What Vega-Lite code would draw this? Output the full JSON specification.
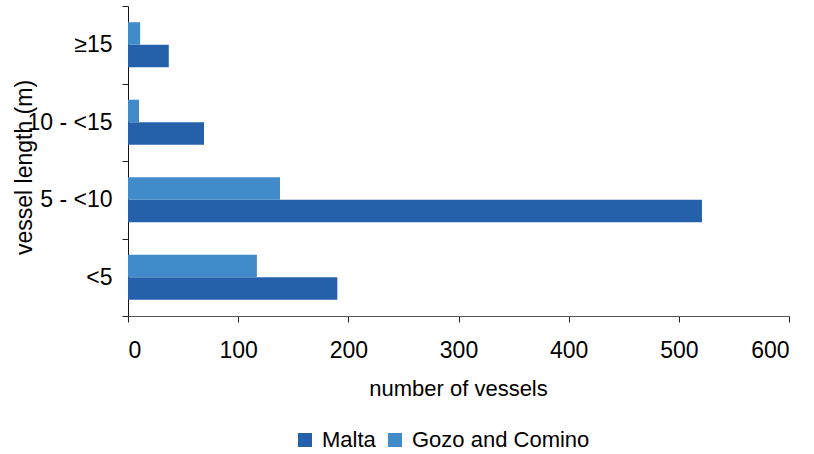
{
  "$schema": "https://vega.github.io/schema/vega-lite/v6.json",
  "autosize": "none",
  "padding": {"left": 128, "top": 6, "right": 25, "bottom": 138},
  "width": 661,
  "height": 310,
  "background": "white",
  "config": {
    "view": {"stroke": null},
    "font": "Liberation Sans",
    "axis": {"labelFont": "Liberation Sans", "titleFont": "Liberation Sans", "labelColor": "black", "titleColor": "black", "titleFontWeight": "normal", "grid": false},
    "legend": {"labelFont": "Liberation Sans"}
  },
  "data": {
    "values": [
      {"length": "≥15", "area": "Malta", "vessels": 37},
      {"length": "≥15", "area": "Gozo and Comino", "vessels": 11},
      {"length": "10 - <15", "area": "Malta", "vessels": 69},
      {"length": "10 - <15", "area": "Gozo and Comino", "vessels": 10},
      {"length": "5 - <10", "area": "Malta", "vessels": 521},
      {"length": "5 - <10", "area": "Gozo and Comino", "vessels": 138},
      {"length": "<5", "area": "Malta", "vessels": 190},
      {"length": "<5", "area": "Gozo and Comino", "vessels": 117}
    ]
  },
  "mark": {"type": "bar"},
  "encoding": {
    "y": {
      "field": "length",
      "type": "nominal",
      "sort": ["≥15", "10 - <15", "5 - <10", "<5"],
      "scale": {"paddingInner": 0, "paddingOuter": 0},
      "axis": {
        "title": "vessel length (m)",
        "titleFontSize": 23,
        "labelFontSize": 23,
        "tickBand": "extent",
        "tickSize": 6,
        "tickColor": "#222",
        "domainColor": "#111",
        "labelPadding": 10,
        "titleX": -97,
        "titleY": 161,
        "titleAngle": -90,
        "titleAlign": "center",
        "titleBaseline": "alphabetic"
      }
    },
    "yOffset": {
      "field": "area",
      "type": "nominal",
      "sort": ["Gozo and Comino", "Malta"],
      "scale": {"paddingInner": 0, "paddingOuter": 0.72}
    },
    "x": {
      "field": "vessels",
      "type": "quantitative",
      "scale": {"domain": [0, 600], "nice": false},
      "axis": {
        "title": "number of vessels",
        "values": [0, 100, 200, 300, 400, 500, 600],
        "titleFontSize": 22,
        "labelFontSize": 23,
        "tickSize": 6,
        "tickColor": "#222",
        "domainColor": "#555",
        "labelPadding": 17,
        "titleX": 330,
        "titleY": 79,
        "titleAlign": "center",
        "titleBaseline": "alphabetic"
      }
    },
    "color": {
      "field": "area",
      "type": "nominal",
      "sort": ["Malta", "Gozo and Comino"],
      "scale": {"domain": ["Malta", "Gozo and Comino"], "range": ["#2561AA", "#428BCA"]},
      "legend": {
        "title": null,
        "orient": "none",
        "direction": "horizontal",
        "legendX": 166,
        "legendY": 423,
        "symbolType": "square",
        "symbolSize": 196,
        "symbolStrokeWidth": 0,
        "labelFontSize": 22,
        "labelLimit": 0,
        "labelOffset": 6,
        "columnPadding": 8
      }
    }
  }
}
